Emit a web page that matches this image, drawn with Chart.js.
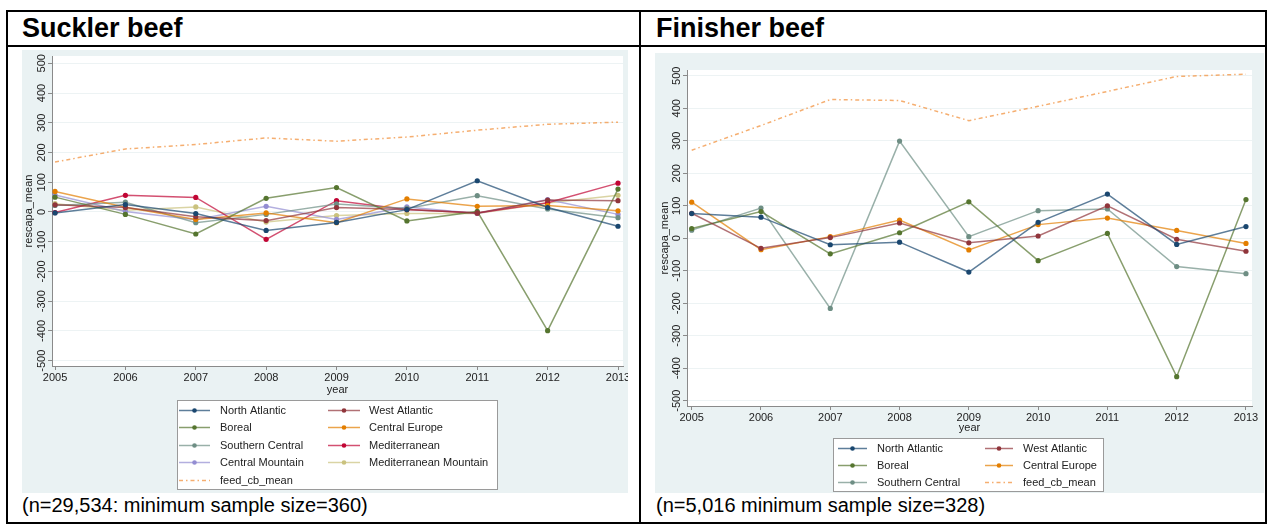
<!DOCTYPE html>
<html>
<head>
<meta charset="utf-8">
<script src="https://cdn.jsdelivr.net/npm/chart.js@4/dist/chart.umd.min.js"></script>
<style>
  body { margin: 0; background: #fff; font-family: Arial, "Liberation Sans", sans-serif; }
  #page { position: relative; width: 1272px; height: 526px; overflow: hidden; }
  .ln { position: absolute; background: #000; }
  .ttl { position: absolute; font-weight: bold; font-size: 27px; line-height: 26px; color: #000; }
  .cap { position: absolute; font-size: 20px; line-height: 20px; color: #000; white-space: nowrap; }
  canvas { position: absolute; }
</style>
</head>
<body>
<div id="page">
  <div class="ln" style="left:6px;top:10px;width:1261px;height:2px"></div>
  <div class="ln" style="left:6px;top:45px;width:1261px;height:2px"></div>
  <div class="ln" style="left:6px;top:522px;width:1261px;height:2px"></div>
  <div class="ln" style="left:6px;top:10px;width:2px;height:514px"></div>
  <div class="ln" style="left:639px;top:10px;width:2px;height:514px"></div>
  <div class="ln" style="left:1265px;top:10px;width:2px;height:514px"></div>

  <div class="ttl" style="left:22px;top:15px">Suckler beef</div>
  <div class="ttl" style="left:656px;top:15px">Finisher beef</div>

  <canvas id="suckler" width="606" height="443" style="left:22px;top:50px"></canvas>
  <canvas id="finisher" width="609" height="440" style="left:655px;top:53px"></canvas>

  <div class="cap" style="left:22px;top:495px">(n=29,534: minimum sample size=360)</div>
  <div class="cap" style="left:656px;top:495px">(n=5,016 minimum sample size=328)</div>
</div>

<script>
const years = [2005, 2006, 2007, 2008, 2009, 2010, 2011, 2012, 2013];
const yTicks = [-500, -400, -300, -200, -100, 0, 100, 200, 300, 400, 500];

// Suckler beef
const suckNorthAtlantic = [-3, 25, -5, -62, -35, 8, 105, 15, -48];
const suckWestAtlantic = [24, 15, -16, -29, 15, 8, -3, 40, 38];
const suckBoreal = [50, -8, -74, 46, 82, -30, 2, -399, 77];
const suckCentralEurope = [69, 16, -25, -3, -36, 44, 19, 22, 4];
const suckSouthernCentral = [22, 33, -36, -8, 27, 12, 55, 10, -19];
const suckMediterranean = [-2, 56, 49, -92, 38, 8, -3, 31, 97];
const suckCentralMountain = [57, 2, -26, 19, -25, 17, -5, 42, -8];
const suckMedMountain = [28, 6, 17, -34, -12, -5, -5, 30, 56];
const suckFeed = [168, 212, 227, 249, 238, 252, 275, 295, 302];

// Finisher beef
const finNorthAtlantic = [76, 65, -20, -12, -104, 49, 136, -19, 36];
const finWestAtlantic = [77, -31, 2, 47, -14, 7, 100, -3, -40];
const finBoreal = [30, 82, -48, 17, 112, -69, 15, -426, 119];
const finCentralEurope = [111, -35, 5, 56, -36, 42, 62, 24, -16];
const finSouthernCentral = [25, 93, -216, 299, 5, 85, 90, -87, -109];
const finFeed = [271, 347, 427, 424, 362, 406, 452, 498, 505];

const FONT = 'Arial, "Liberation Sans", sans-serif';
const TEXT = '#222';
const AXIS = '#8a8a8a';
const PANEL = '#eaf2f3';

Chart.defaults.font.family = FONT;

const hexA = (hex, a) => {
  const n = parseInt(hex.slice(1), 16);
  return `rgba(${n >> 16},${(n >> 8) & 255},${n & 255},${a})`;
};

const series = (label, values, color) => ({
  label,
  data: years.map((yr, i) => ({ x: yr, y: values[i] })),
  borderColor: hexA(color, 0.7),
  backgroundColor: color,
  pointBackgroundColor: color,
  pointBorderColor: color,
  pointRadius: 2.6,
  pointBorderWidth: 0,
  borderWidth: 1.5,
  tension: 0,
});

const feedSeries = (values) => ({
  label: 'feed_cb_mean',
  data: years.map((yr, i) => ({ x: yr, y: values[i] })),
  borderColor: hexA('#f39a4c', 0.8),
  backgroundColor: '#f39a4c',
  borderDash: [4, 3, 1.5, 3],
  borderWidth: 1.5,
  pointRadius: 0,
  tension: 0,
});

// light panel behind, white plot region
const panelBg = {
  id: 'panelBg',
  beforeDraw(chart) {
    const { ctx, chartArea: a, width, height } = chart;
    ctx.save();
    ctx.fillStyle = PANEL;
    ctx.fillRect(0, 0, width, height);
    ctx.fillStyle = '#fff';
    ctx.fillRect(a.left, a.top, a.right - a.left, a.bottom - a.top);
    ctx.restore();
  },
};

// vertical y tick labels, Stata style
const yLabels = {
  id: 'yLabels',
  afterDraw(chart) {
    const { ctx } = chart;
    const s = chart.scales.y;
    ctx.save();
    ctx.font = `11px ${FONT}`;
    ctx.fillStyle = TEXT;
    ctx.textAlign = 'center';
    ctx.textBaseline = 'middle';
    s.ticks.forEach((t) => {
      ctx.save();
      ctx.translate(s.right - 10, s.getPixelForValue(t.value));
      ctx.rotate(-Math.PI / 2);
      ctx.fillText(String(t.value), 0, 0);
      ctx.restore();
    });
    ctx.restore();
  },
};

// two column legend in a box under the plot
const boxLegend = {
  id: 'boxLegend',
  afterDraw(chart, args, o) {
    const { ctx } = chart;
    ctx.save();
    ctx.fillStyle = '#fff';
    ctx.fillRect(o.x, o.y, o.w, o.h);
    ctx.strokeStyle = '#9a9a9a';
    ctx.lineWidth = 1;
    ctx.strokeRect(o.x + 0.5, o.y + 0.5, o.w, o.h);
    ctx.font = `11px ${FONT}`;
    ctx.textBaseline = 'middle';
    chart.data.datasets.forEach((ds, i) => {
      const c = o.cols[i % 2];
      const ty = Math.round(o.y + o.row0 + Math.floor(i / 2) * o.rowH) + 0.5;
      const x1 = o.x + c.l1, x2 = o.x + c.l2;
      ctx.strokeStyle = ds.borderColor;
      ctx.lineWidth = ds.borderWidth;
      ctx.setLineDash(ds.borderDash || []);
      ctx.beginPath();
      ctx.moveTo(x1, ty);
      ctx.lineTo(x2, ty);
      ctx.stroke();
      ctx.setLineDash([]);
      if (ds.pointRadius > 0) {
        ctx.fillStyle = ds.pointBackgroundColor;
        ctx.beginPath();
        ctx.arc((x1 + x2) / 2, ty, 2.3, 0, Math.PI * 2);
        ctx.fill();
      }
      ctx.fillStyle = TEXT;
      ctx.fillText(ds.label, o.x + c.t, ty);
    });
    ctx.restore();
  },
};

const makeChart = (id, datasets, cfg) => new Chart(document.getElementById(id), {
  type: 'line',
  data: { datasets },
  plugins: [panelBg, yLabels, boxLegend],
  options: {
    responsive: false,
    animation: false,
    layout: { padding: cfg.padding },
    plugins: {
      legend: { display: false },
      tooltip: { enabled: false },
      boxLegend: cfg.legend,
    },
    scales: {
      x: {
        type: 'linear',
        min: cfg.xMin,
        max: cfg.xMax,
        afterBuildTicks: (s) => { s.ticks = years.map((v) => ({ value: v })); },
        afterFit: (s) => { s.height = cfg.xH; s.paddingLeft = 0; s.paddingRight = 0; },
        ticks: {
          callback: (v) => String(v),
          font: { size: 11 },
          color: TEXT,
          padding: 1,
          maxRotation: 0,
          autoSkip: false,
        },
        grid: { drawOnChartArea: false, tickLength: 4, tickColor: AXIS },
        border: { color: AXIS },
        title: { display: true, text: 'year', padding: 0, font: { size: 11 }, color: TEXT },
      },
      y: {
        type: 'linear',
        min: cfg.yMin,
        max: cfg.yMax,
        afterBuildTicks: (s) => { s.ticks = yTicks.map((v) => ({ value: v })); },
        afterFit: (s) => { s.width = cfg.yW; s.paddingTop = 0; s.paddingBottom = 0; },
        ticks: { display: false },
        grid: { color: '#edf3f4', tickLength: 4, tickColor: AXIS },
        border: { color: AXIS },
        title: {
          display: true,
          text: 'rescapa_mean',
          padding: { top: cfg.yTitlePad, bottom: 0 },
          font: { size: 11 },
          color: TEXT,
        },
      },
    },
  },
});

makeChart('suckler', [
  series('North Atlantic', suckNorthAtlantic, '#1a476f'),
  series('West Atlantic', suckWestAtlantic, '#90353b'),
  series('Boreal', suckBoreal, '#55752f'),
  series('Central Europe', suckCentralEurope, '#e37e00'),
  series('Southern Central', suckSouthernCentral, '#6e8e84'),
  series('Mediterranean', suckMediterranean, '#c10534'),
  series('Central Mountain', suckCentralMountain, '#938dd2'),
  series('Mediterranean Mountain', suckMedMountain, '#cac27e'),
  feedSeries(suckFeed),
], {
  padding: { left: 0, top: 6, right: 5, bottom: 96 },
  xMin: 2004.957, xMax: 2013.071, xH: 31,
  yMin: -517.8, yMax: 524.5, yW: 30, yTitlePad: 0,
  legend: {
    x: 155, y: 350, w: 320, h: 89, row0: 9.5, rowH: 17.6,
    cols: [{ l1: 2, l2: 33, t: 43 }, { l1: 151, l2: 183, t: 192 }],
  },
});

makeChart('finisher', [
  series('North Atlantic', finNorthAtlantic, '#1a476f'),
  series('West Atlantic', finWestAtlantic, '#90353b'),
  series('Boreal', finBoreal, '#55752f'),
  series('Central Europe', finCentralEurope, '#e37e00'),
  series('Southern Central', finSouthernCentral, '#6e8e84'),
  feedSeries(finFeed),
], {
  padding: { left: 0, top: 17, right: 12, bottom: 58 },
  xMin: 2004.932, xMax: 2013.087, xH: 29,
  yMin: -516.3, yMax: 517.9, yW: 32, yTitlePad: 3,
  legend: {
    x: 178, y: 385, w: 270, h: 53, row0: 9.7, rowH: 17.3,
    cols: [{ l1: 5, l2: 34, t: 44 }, { l1: 152, l2: 180, t: 190 }],
  },
});
</script>
</body>
</html>
